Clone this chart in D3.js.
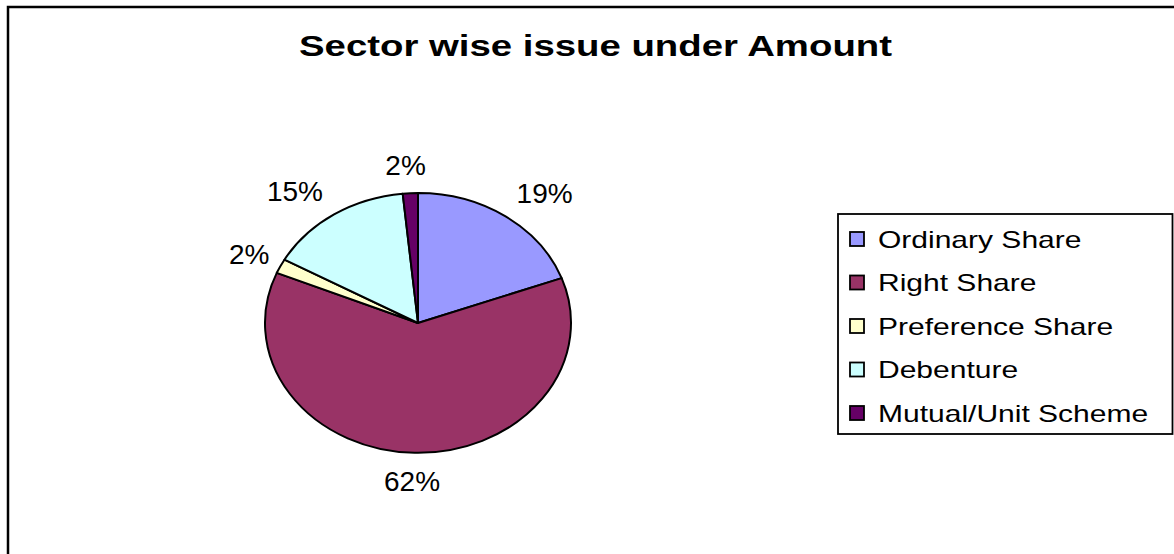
<!DOCTYPE html>
<html>
<head>
<meta charset="utf-8">
<script src="https://cdn.jsdelivr.net/npm/d3@7"></script>
<style>
  html, body { margin: 0; padding: 0; background: #fff; }
  svg { display: block; }
  text { font-family: Arial, "Liberation Sans", Helvetica, sans-serif; }
</style>
</head>
<body>
<svg id="chart" width="1174" height="554"></svg>
<script>
// Issue amount shares by sector (percent of total)
const categories = ["Ordinary Share", "Right Share", "Preference Share", "Debenture", "Mutual/Unit Scheme"];
const shares = [19.4, 61.9, 1.8, 15.3, 1.6];
const sliceColors = ["#9999FF", "#993366", "#FFFFCC", "#CCFFFF", "#660066"];
const titleText = "Sector wise issue under Amount";

const W = 1174, H = 554;
const svg = d3.select("#chart");

// outer chart frame (runs off the right and bottom of the view)
svg.append("rect")
  .attr("x", 8).attr("y", 7)
  .attr("width", W + 20).attr("height", H + 20)
  .attr("fill", "#fff").attr("stroke", "#000").attr("stroke-width", 2.5);

// title, drawn slightly wide
const title = svg.append("text")
  .attr("x", 595.5).attr("y", 56)
  .attr("text-anchor", "middle")
  .attr("font-size", 30).attr("font-weight", "bold")
  .attr("fill", "#000")
  .text(titleText);
title.attr("textLength", 593).attr("lengthAdjust", "spacingAndGlyphs");

// pie drawn on a unit circle and stretched into an ellipse
const cx = 418, cy = 323, rx = 153, ry = 130;
const pie = d3.pie().sort(null).value(d => d.value);
const data = categories.map((c, i) => ({ name: c, value: shares[i], color: sliceColors[i] }));
const arcs = pie(data);
const arc = d3.arc().innerRadius(0).outerRadius(1);

const pieG = svg.append("g")
  .attr("transform", `translate(${cx},${cy}) scale(${rx},${ry})`);
pieG.selectAll("path")
  .data(arcs)
  .join("path")
  .attr("d", arc)
  .attr("fill", d => d.data.color)
  .attr("stroke", "#000")
  .attr("stroke-width", 2)
  .attr("stroke-linejoin", "round")
  .attr("vector-effect", "non-scaling-stroke");

// percentage labels just outside the rim
const fmt = v => Math.round(v) + "%";
const labelG = svg.append("g");
arcs.forEach(a => {
  const mid = (a.startAngle + a.endAngle) / 2;
  const s = Math.sin(mid), c = Math.cos(mid);
  const ex = cx + s * rx, ey = cy - c * ry;
  const t = labelG.append("text")
    .attr("font-size", 28)
    .attr("fill", "#000")
    .attr("text-anchor", "middle")
    .text(fmt(a.data.value));
  const w = t.node().getComputedTextLength();
  const dx = Math.sign(s) * Math.min(1, Math.abs(s) * 3) * (w / 2 + 11);
  const dy = -c * 28;
  t.attr("x", ex + dx).attr("y", ey + dy + 10);
});

// legend
const lg = svg.append("g");
lg.append("rect")
  .attr("x", 838).attr("y", 214)
  .attr("width", 334.5).attr("height", 220)
  .attr("fill", "#fff").attr("stroke", "#000").attr("stroke-width", 1.8);

const rowY = d3.scalePoint().domain(categories).range([239, 413]);
const rows = lg.selectAll("g.row")
  .data(data)
  .join("g")
  .attr("class", "row")
  .attr("transform", d => `translate(0,${rowY(d.name)})`);
rows.append("rect")
  .attr("x", 850).attr("y", -7)
  .attr("width", 14).attr("height", 14)
  .attr("fill", d => d.color)
  .attr("stroke", "#000").attr("stroke-width", 1.8);
rows.append("text")
  .attr("x", 878).attr("y", 8.5)
  .attr("font-size", 24)
  .attr("fill", "#000")
  .text(d => d.name)
  .each(function () {
    const w = this.getComputedTextLength();
    d3.select(this).attr("textLength", w * 1.25).attr("lengthAdjust", "spacingAndGlyphs");
  });
</script>
</body>
</html>
